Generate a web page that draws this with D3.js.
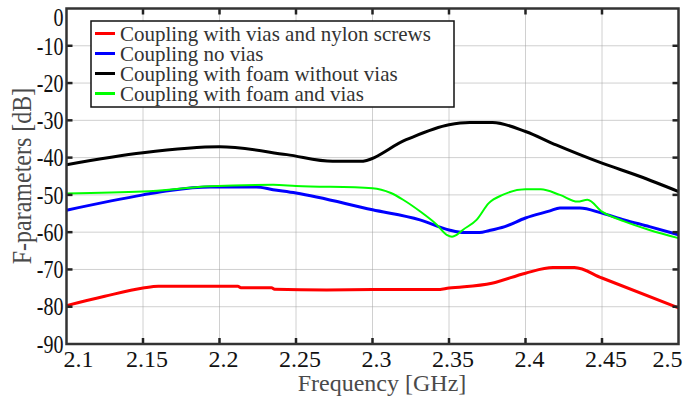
<!DOCTYPE html>
<html>
<head>
<meta charset="utf-8">
<script src="https://cdn.jsdelivr.net/npm/d3@7"></script>
<style>
  body { margin: 0; background: #fff; }
  svg text { font-family: "Liberation Serif", "DejaVu Serif", serif; }
</style>
</head>
<body>
<svg id="chart" width="693" height="397"></svg>
<script>
const xTicks = [2.1, 2.15, 2.2, 2.25, 2.3, 2.35, 2.4, 2.45, 2.5];
const yTicks = [0, -10, -20, -30, -40, -50, -60, -70, -80, -90];

// red: vias + nylon screws
const redFreq = [2.1, 2.125, 2.15, 2.16, 2.2, 2.212, 2.214, 2.234, 2.236, 2.27, 2.3, 2.342, 2.35, 2.378, 2.4, 2.418, 2.432, 2.45, 2.5];
const redDb   = [-79.7, -77.2, -75.0, -74.5, -74.5, -74.5, -74.9, -74.9, -75.3, -75.5, -75.4, -75.4, -75.0, -73.7, -71.0, -69.5, -69.5, -72.3, -80.3];

// blue: no vias
const blueFreq = [2.1, 2.15, 2.1675, 2.194, 2.224, 2.235, 2.25, 2.3, 2.331, 2.35, 2.36, 2.37, 2.376, 2.3865, 2.4, 2.416, 2.4225, 2.4355, 2.45, 2.4645, 2.481, 2.5];
const blueDb   = [-54.1, -50.0, -48.8, -47.9, -47.9, -48.6, -49.5, -54.0, -56.7, -59.4, -60.1, -60.1, -59.6, -58.5, -56.2, -54.3, -53.5, -53.5, -54.9, -56.7, -58.5, -60.7];

// black: foam without vias
const blackFreq = [2.1, 2.15, 2.2, 2.244, 2.274, 2.2917, 2.322, 2.35, 2.3635, 2.3785, 2.4, 2.42, 2.45, 2.4745, 2.5];
const blackDb   = [-41.9, -38.7, -37.1, -39.2, -41.0, -41.0, -35.2, -31.2, -30.6, -30.6, -33.0, -36.6, -41.5, -45.0, -49.1];

// green: foam and vias
const greenFreq = [2.1, 2.15, 2.194, 2.235, 2.25, 2.3, 2.312, 2.32, 2.331, 2.342, 2.3485, 2.352, 2.355, 2.359, 2.368, 2.376, 2.385, 2.4, 2.41, 2.4225, 2.434, 2.4405, 2.45, 2.4645, 2.481, 2.5];
const greenDb   = [-49.6, -49.1, -47.7, -47.3, -47.6, -48.2, -49.5, -51.3, -54.4, -58.0, -60.7, -61.2, -60.7, -59.4, -56.7, -52.2, -50.0, -48.5, -48.5, -50.0, -51.8, -51.3, -54.5, -57.1, -59.4, -61.6];

const seriesNames = [
  "Coupling with vias and nylon screws",
  "Coupling no vias",
  "Coupling with foam without vias",
  "Coupling with foam and vias"
];
const seriesColors = ["#ff0000", "#0000ff", "#000000", "#00ff00"];

const series = [
  { freq: redFreq, db: redDb, width: 3 },
  { freq: blueFreq, db: blueDb, width: 3 },
  { freq: blackFreq, db: blackDb, width: 3 },
  { freq: greenFreq, db: greenDb, width: 2 }
];

const svg = d3.select('#chart');
const plot = { left: 66.5, right: 678.5, top: 8.5, bottom: 344 };
const font = '"Liberation Serif", "DejaVu Serif", serif';

const x = d3.scaleLinear().domain([2.1, 2.5]).range([plot.left, plot.right]);
const y = d3.scaleLinear().domain([-90, 0]).range([plot.bottom, plot.top]);

// grid
const grid = svg.append('g').attr('stroke', '#a0a0a0').attr('stroke-width', 1).attr('stroke-dasharray', '1,1');
grid.selectAll('.gx').data(xTicks.slice(1, -1)).join('line')
  .attr('x1', d => x(d)).attr('x2', d => x(d)).attr('y1', plot.top).attr('y2', plot.bottom);
grid.selectAll('.gy').data(yTicks.slice(1, -1)).join('line')
  .attr('x1', plot.left).attr('x2', plot.right).attr('y1', d => y(d)).attr('y2', d => y(d));

// curves
const line = d3.line().curve(d3.curveMonotoneX).x(d => x(d[0])).y(d => y(d[1]));
series.forEach((s, i) => {
  svg.append('path')
    .datum(s.freq.map((f, j) => [f, s.db[j]]))
    .attr('fill', 'none')
    .attr('stroke', seriesColors[i])
    .attr('stroke-width', s.width)
    .attr('stroke-linejoin', 'round')
    .attr('d', line);
});

// inward ticks on all four sides
const tickG = svg.append('g').attr('stroke', '#222').attr('stroke-width', 2.5);
xTicks.slice(1, -1).forEach(t => {
  tickG.append('line').attr('x1', x(t)).attr('x2', x(t)).attr('y1', plot.bottom).attr('y2', plot.bottom - 6);
  tickG.append('line').attr('x1', x(t)).attr('x2', x(t)).attr('y1', plot.top).attr('y2', plot.top + 6);
});
yTicks.slice(1, -1).forEach(t => {
  tickG.append('line').attr('x1', plot.left).attr('x2', plot.left + 6).attr('y1', y(t)).attr('y2', y(t));
  tickG.append('line').attr('x1', plot.right).attr('x2', plot.right - 6).attr('y1', y(t)).attr('y2', y(t));
});

// frame
svg.append('rect')
  .attr('x', plot.left).attr('y', plot.top)
  .attr('width', plot.right - plot.left).attr('height', plot.bottom - plot.top)
  .attr('fill', 'none').attr('stroke', '#333').attr('stroke-width', 2.5);

// y tick labels are narrow and tall in the original
svg.append('g').selectAll('text').data(yTicks).join('text')
  .attr('transform', (d, i) => `translate(${plot.left - 3},${y(d) + (i === 0 ? 9 : 0)}) scale(1,1.25)`)
  .attr('dy', '0.35em')
  .attr('text-anchor', 'end')
  .attr('font-family', font)
  .attr('font-size', 20)
  .attr('fill', '#111')
  .text(d => d);

svg.append('g').selectAll('text').data(xTicks).join('text')
  .attr('x', (d, i) => x(d) + (i === 0 ? 12 : i === xTicks.length - 1 ? -11 : 4))
  .attr('y', 366.5)
  .attr('text-anchor', 'middle')
  .attr('font-family', font)
  .attr('font-size', 24)
  .attr('fill', '#111')
  .text(d => d);

// axis titles
svg.append('text')
  .attr('x', 382).attr('y', 391)
  .attr('text-anchor', 'middle')
  .attr('font-family', font)
  .attr('font-size', 24)
  .attr('fill', '#4a4a4a')
  .text('Frequency [GHz]');

svg.append('text')
  .attr('transform', 'translate(31,176) rotate(-90) scale(1,1.15)')
  .attr('text-anchor', 'middle')
  .attr('font-family', font)
  .attr('font-size', 24)
  .attr('fill', '#4a4a4a')
  .text('F-parameters [dB]');

// legend
const legend = svg.append('g');
legend.append('rect')
  .attr('x', 91).attr('y', 21).attr('width', 363).attr('height', 86)
  .attr('fill', '#fff').attr('stroke', '#111').attr('stroke-width', 1.5);
seriesNames.forEach((name, i) => {
  const ly = 33.5 + i * 20;
  legend.append('line')
    .attr('x1', 95).attr('x2', 115).attr('y1', ly).attr('y2', ly)
    .attr('stroke', seriesColors[i]).attr('stroke-width', 3);
  legend.append('text')
    .attr('x', 120).attr('y', ly).attr('dy', '0.35em')
    .attr('font-family', font)
    .attr('font-size', 21)
    .attr('fill', '#333')
    .text(name);
});
</script>
</body>
</html>
